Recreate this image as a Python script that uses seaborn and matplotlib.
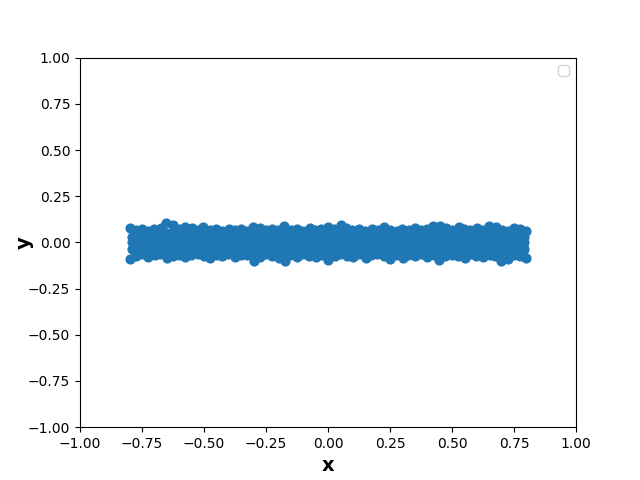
import matplotlib
matplotlib.use("Agg")
import matplotlib.pyplot as plt
import numpy as np
import pandas as pd
import seaborn as sns

# points along the upper edge of the band
x_top = [-0.800, -0.776, -0.748, -0.726, -0.701, -0.674, -0.652, -0.627, -0.598, -0.577,
         -0.549, -0.526, -0.503, -0.474, -0.451, -0.428, -0.399, -0.377, -0.352, -0.326,
         -0.301, -0.274, -0.252, -0.224, -0.201, -0.177, -0.150, -0.126, -0.102, -0.074,
         -0.051, -0.027, 0.002, 0.024, 0.051, 0.073, 0.098, 0.127, 0.149, 0.176,
         0.202, 0.224, 0.251, 0.277, 0.298, 0.326, 0.352, 0.374, 0.401, 0.424,
         0.452, 0.476, 0.499, 0.527, 0.548, 0.574, 0.601, 0.626, 0.649, 0.677,
         0.702, 0.724, 0.751, 0.776, 0.799]
y_top = [0.078, 0.066, 0.072, 0.064, 0.070, 0.076, 0.104, 0.092, 0.071, 0.083,
         0.079, 0.068, 0.081, 0.066, 0.074, 0.063, 0.070, 0.068, 0.075, 0.062,
         0.086, 0.079, 0.067, 0.073, 0.069, 0.087, 0.066, 0.071, 0.063, 0.076,
         0.068, 0.074, 0.081, 0.070, 0.092, 0.079, 0.067, 0.071, 0.062, 0.074,
         0.066, 0.083, 0.069, 0.061, 0.072, 0.065, 0.077, 0.068, 0.073, 0.087,
         0.091, 0.078, 0.069, 0.084, 0.072, 0.067, 0.078, 0.066, 0.089, 0.082,
         0.068, 0.064, 0.077, 0.072, 0.061]

# points along the lower edge
x_bot = [-0.799, -0.773, -0.752, -0.724, -0.698, -0.676, -0.649, -0.623, -0.601, -0.575,
         -0.551, -0.524, -0.498, -0.476, -0.449, -0.426, -0.402, -0.373, -0.349, -0.327,
         -0.298, -0.276, -0.249, -0.227, -0.198, -0.173, -0.152, -0.124, -0.099, -0.077,
         -0.048, -0.023, -0.001, 0.027, 0.048, 0.076, 0.101, 0.123, 0.152, 0.173,
         0.199, 0.227, 0.248, 0.274, 0.302, 0.323, 0.349, 0.377, 0.398, 0.427,
         0.449, 0.473, 0.502, 0.523, 0.551, 0.573, 0.598, 0.624, 0.652, 0.673,
         0.699, 0.727, 0.748, 0.773, 0.798]
y_bot = [-0.092, -0.071, -0.064, -0.078, -0.069, -0.062, -0.083, -0.074, -0.066, -0.079,
         -0.068, -0.061, -0.072, -0.084, -0.067, -0.075, -0.063, -0.081, -0.070, -0.066,
         -0.098, -0.077, -0.064, -0.073, -0.085, -0.103, -0.069, -0.078, -0.062, -0.071,
         -0.080, -0.067, -0.094, -0.074, -0.065, -0.072, -0.079, -0.063, -0.086, -0.068,
         -0.061, -0.075, -0.091, -0.070, -0.083, -0.066, -0.073, -0.064, -0.081, -0.069,
         -0.095, -0.076, -0.066, -0.072, -0.084, -0.063, -0.071, -0.078, -0.067, -0.074,
         -0.099, -0.088, -0.069, -0.076, -0.082]

# inner points, first set
x_mid = [-0.79, -0.76, -0.73, -0.70, -0.67, -0.64, -0.61, -0.58, -0.55, -0.52,
         -0.49, -0.46, -0.43, -0.40, -0.37, -0.34, -0.31, -0.28, -0.25, -0.22,
         -0.19, -0.16, -0.13, -0.10, -0.07, -0.04, -0.01, 0.02, 0.05, 0.08,
         0.11, 0.14, 0.17, 0.20, 0.23, 0.26, 0.29, 0.32, 0.35, 0.38,
         0.41, 0.44, 0.47, 0.50, 0.53, 0.56, 0.59, 0.62, 0.65, 0.68,
         0.71, 0.74, 0.77, 0.79]
y_mid_hi = [0.031, 0.042, 0.027, 0.036, 0.044, 0.029, 0.038, 0.033, 0.025, 0.041,
            0.035, 0.028, 0.043, 0.030, 0.037, 0.026, 0.039, 0.034, 0.045, 0.029,
            0.032, 0.040, 0.027, 0.036, 0.043, 0.031, 0.038, 0.025, 0.034, 0.041,
            0.029, 0.037, 0.044, 0.030, 0.035, 0.026, 0.039, 0.033, 0.042, 0.028,
            0.036, 0.031, 0.045, 0.027, 0.038, 0.034, 0.029, 0.040, 0.032, 0.043,
            0.026, 0.037, 0.035, 0.030]
y_mid_0 = [0.004, -0.007, 0.009, -0.002, 0.006, -0.009, 0.001, 0.008, -0.005, 0.003,
           -0.008, 0.005, -0.001, 0.010, -0.006, 0.002, -0.004, 0.007, -0.010, 0.000,
           0.006, -0.003, 0.009, -0.007, 0.001, 0.004, -0.009, 0.008, -0.002, 0.005,
           -0.006, 0.003, -0.008, 0.010, -0.001, 0.007, -0.005, 0.002, -0.010, 0.006,
           0.000, -0.004, 0.009, -0.007, 0.003, 0.008, -0.003, 0.001, -0.009, 0.005,
           -0.002, 0.007, -0.006, 0.004]
y_mid_lo = [-0.038, -0.029, -0.044, -0.033, -0.026, -0.041, -0.035, -0.030, -0.043, -0.027,
            -0.036, -0.040, -0.031, -0.045, -0.028, -0.034, -0.039, -0.025, -0.042, -0.032,
            -0.037, -0.029, -0.044, -0.033, -0.026, -0.040, -0.035, -0.030, -0.043, -0.028,
            -0.036, -0.041, -0.031, -0.038, -0.027, -0.034, -0.045, -0.029, -0.039, -0.032,
            -0.025, -0.042, -0.037, -0.030, -0.044, -0.033, -0.028, -0.040, -0.035, -0.026,
            -0.041, -0.031, -0.038, -0.034]

# inner points, second set
x_mid2 = [-0.775, -0.745, -0.715, -0.685, -0.655, -0.625, -0.595, -0.565, -0.535, -0.505,
          -0.475, -0.445, -0.415, -0.385, -0.355, -0.325, -0.295, -0.265, -0.235, -0.205,
          -0.175, -0.145, -0.115, -0.085, -0.055, -0.025, 0.005, 0.035, 0.065, 0.095,
          0.125, 0.155, 0.185, 0.215, 0.245, 0.275, 0.305, 0.335, 0.365, 0.395,
          0.425, 0.455, 0.485, 0.515, 0.545, 0.575, 0.605, 0.635, 0.665, 0.695,
          0.725, 0.755, 0.785]
y_a = [0.051, 0.056, 0.048, 0.054, 0.050, 0.057, 0.047, 0.053, 0.055, 0.049,
       0.052, 0.058, 0.046, 0.054, 0.050, 0.056, 0.048, 0.053, 0.051, 0.057,
       0.049, 0.055, 0.047, 0.052, 0.058, 0.050, 0.054, 0.046, 0.056, 0.051,
       0.053, 0.048, 0.057, 0.050, 0.055, 0.049, 0.052, 0.058, 0.047, 0.054,
       0.051, 0.056, 0.048, 0.053, 0.050, 0.057, 0.049, 0.055, 0.052, 0.047,
       0.054, 0.050, 0.056]
y_b = [0.017, 0.021, 0.014, 0.019, 0.023, 0.015, 0.020, 0.016, 0.022, 0.018,
       0.013, 0.021, 0.017, 0.024, 0.015, 0.019, 0.022, 0.016, 0.020, 0.014,
       0.018, 0.023, 0.015, 0.021, 0.017, 0.019, 0.013, 0.022, 0.016, 0.020,
       0.018, 0.024, 0.014, 0.019, 0.021, 0.015, 0.017, 0.023, 0.016, 0.020,
       0.018, 0.014, 0.022, 0.017, 0.019, 0.015, 0.021, 0.016, 0.024, 0.018,
       0.020, 0.013, 0.019]
y_c = [-0.019, -0.015, -0.022, -0.017, -0.013, -0.021, -0.016, -0.020, -0.014, -0.018,
       -0.023, -0.015, -0.019, -0.012, -0.021, -0.017, -0.014, -0.020, -0.016, -0.022,
       -0.018, -0.013, -0.021, -0.015, -0.019, -0.017, -0.023, -0.014, -0.020, -0.016,
       -0.018, -0.012, -0.022, -0.017, -0.015, -0.021, -0.019, -0.013, -0.020, -0.016,
       -0.018, -0.022, -0.014, -0.019, -0.017, -0.021, -0.015, -0.020, -0.012, -0.018,
       -0.016, -0.023, -0.017]
y_d = [-0.053, -0.048, -0.056, -0.050, -0.054, -0.047, -0.057, -0.051, -0.049, -0.055,
       -0.052, -0.046, -0.058, -0.050, -0.054, -0.048, -0.056, -0.051, -0.053, -0.047,
       -0.055, -0.049, -0.057, -0.052, -0.046, -0.054, -0.050, -0.058, -0.048, -0.053,
       -0.051, -0.056, -0.047, -0.054, -0.049, -0.055, -0.052, -0.046, -0.057, -0.050,
       -0.053, -0.048, -0.056, -0.051, -0.054, -0.047, -0.055, -0.049, -0.052, -0.057,
       -0.050, -0.054, -0.048]

df = pd.concat([
    pd.DataFrame({'x': x_top, 'y': y_top}),
    pd.DataFrame({'x': x_mid, 'y': y_mid_hi}),
    pd.DataFrame({'x': x_mid, 'y': y_mid_0}),
    pd.DataFrame({'x': x_mid, 'y': y_mid_lo}),
    pd.DataFrame({'x': x_mid2, 'y': y_a}),
    pd.DataFrame({'x': x_mid2, 'y': y_b}),
    pd.DataFrame({'x': x_mid2, 'y': y_c}),
    pd.DataFrame({'x': x_mid2, 'y': y_d}),
    pd.DataFrame({'x': x_bot, 'y': y_bot}),
], ignore_index=True)

fig, ax = plt.subplots(figsize=(6.4, 4.8), dpi=100)
sns.scatterplot(data=df, x='x', y='y', color='#1f77b4', s=40,
                edgecolor='#1f77b4', linewidth=1.0, ax=ax)

ax.set_xlim(-1, 1)
ax.set_ylim(-1, 1)
ax.set_xlabel('x', fontsize=14, fontweight='bold')
ax.set_ylabel('y', fontsize=14, fontweight='bold', labelpad=-4)
ax.legend(loc='upper right')

plt.savefig('out.png', dpi=100)
